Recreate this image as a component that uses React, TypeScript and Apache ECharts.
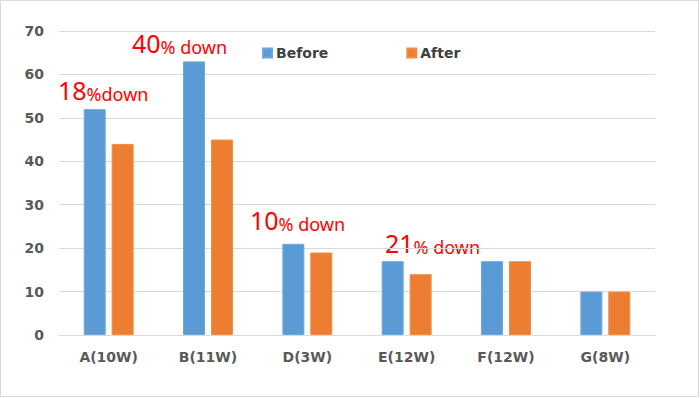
import React, { useEffect, useRef } from "react";
import * as echarts from "echarts";

const categories = ["A(10W)", "B(11W)", "D(3W)", "E(12W)", "F(12W)", "G(8W)"];
const beforeValues = [52, 63, 21, 17, 17, 10];
const afterValues = [44, 45, 19, 14, 17, 10];
const annotations = [
  { num: "18", rest: "%down", x: 58, y: 90 },
  { num: "40", rest: "% down", x: 132, y: 43 },
  { num: "10", rest: "% down", x: 250, y: 220 },
  { num: "21", rest: "% down", x: 385, y: 243 },
];

export default function App() {
  const ref = useRef<HTMLDivElement>(null);
  useEffect(() => {
    document.body.style.margin = "0";
    const chart = echarts.init(ref.current!, null, { renderer: "svg" });
    const labelFont = "'DejaVu Sans', Verdana, sans-serif";
    chart.setOption({
      animation: false,
      backgroundColor: "#ffffff",
      grid: { left: 59, right: 45, top: 31, bottom: 63 },
      legend: {
        top: 46,
        left: 262,
        padding: 0,
        itemWidth: 9,
        itemHeight: 9,
        itemGap: 78,
        icon: "rect",
        textStyle: { color: "#404040", fontSize: 14, fontWeight: "bold", fontFamily: labelFont, padding: [0, 0, 0, -1] },
        data: ["Before", "After"],
      },
      xAxis: {
        type: "category",
        data: categories,
        axisLine: { lineStyle: { color: "#d9d9d9", width: 1 } },
        axisTick: { show: false },
        axisLabel: { color: "#595959", fontSize: 14, fontWeight: "bold", fontFamily: labelFont, margin: 15 },
      },
      yAxis: {
        type: "value",
        min: 0,
        max: 70,
        interval: 10,
        axisLine: { show: false },
        axisTick: { show: false },
        splitLine: { lineStyle: { color: "#d9d9d9", width: 1 } },
        axisLabel: { color: "#595959", fontSize: 14, fontWeight: "bold", fontFamily: labelFont, margin: 15 },
      },
      series: [
        {
          name: "Before",
          type: "bar",
          data: beforeValues,
          barWidth: 22,
          barGap: "27%",
          itemStyle: { color: "#5B9BD5", borderColor: "#6FA8DC", borderWidth: 1 },
        },
        {
          name: "After",
          type: "bar",
          data: afterValues,
          barWidth: 22,
          itemStyle: { color: "#ED7D31", borderColor: "#F08C46", borderWidth: 1 },
        },
      ],
      graphic: [
        {
          type: "rect",
          shape: { x: 0.5, y: 0.5, width: 698, height: 396 },
          style: { fill: "none", stroke: "#d9d9d9", lineWidth: 1 },
          silent: true,
        },
        ...annotations.map((a) => ({
          type: "text",
          x: a.x,
          y: a.y,
          style: {
            text: `{n|${a.num}}{r|${a.rest}}`,
            verticalAlign: "middle",
            rich: {
              n: { fontSize: 25, fill: "#FF0000", fontFamily: "'Noto Sans', sans-serif", verticalAlign: "bottom" },
              r: { fontSize: 18, fill: "#FF0000", fontFamily: "'Noto Sans', sans-serif", verticalAlign: "bottom" },
            },
          },
        })),
      ],
    });
    return () => chart.dispose();
  }, []);
  return <div ref={ref} style={{ width: 700, height: 398 }} />;
}
